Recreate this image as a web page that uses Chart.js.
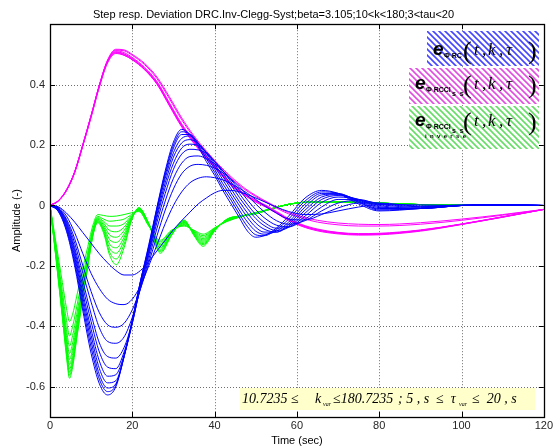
<!DOCTYPE html>
<html><head><meta charset="utf-8">
<script src="https://cdn.jsdelivr.net/npm/chart.js@4.4.1/dist/chart.umd.min.js"></script>
<style>html,body{margin:0;padding:0;background:#fff;}#wrap{width:555px;height:448px;}</style>
</head><body><div id="wrap"><canvas id="c" width="555" height="448"></canvas></div>
<script>
// ---------- axis ticks ----------
const xTicks = [0, 20, 40, 60, 80, 100, 120];
const yTicks = [-0.6, -0.4, -0.2, 0, 0.2, 0.4];

// ---------- blue family (e_ΦRC), 11 values of k ----------
const blueTime = [0,2,4,6,8,10,12,14,16,18,20,22,24,26,28,30,32,34,36,38,40,42,44,46,48,50,52,55,58,62,66,70,75,80,90,100,110,120];
const blue1  = [0,-0.004,-0.025,-0.055,-0.09,-0.125,-0.16,-0.19,-0.215,-0.23,-0.23,-0.215,-0.185,-0.15,-0.115,-0.08,-0.05,-0.022,0.005,0.025,0.042,0.05,0.05,0.045,0.036,0.025,0.013,-0.005,-0.02,-0.03,-0.028,-0.018,-0.005,0.003,0.002,0,0.001,0];
const blue2  = [0,-0.006,-0.035,-0.09,-0.16,-0.225,-0.275,-0.31,-0.325,-0.328,-0.31,-0.265,-0.2,-0.13,-0.06,0,0.045,0.075,0.09,0.095,0.092,0.085,0.072,0.057,0.04,0.02,0,-0.025,-0.045,-0.048,-0.03,-0.008,0.008,0.008,-0.002,0,0.002,0];
const blue3  = [0,-0.008,-0.045,-0.11,-0.2,-0.285,-0.355,-0.395,-0.403,-0.39,-0.345,-0.275,-0.19,-0.1,-0.015,0.055,0.105,0.13,0.136,0.133,0.124,0.108,0.087,0.062,0.033,0.005,-0.02,-0.05,-0.062,-0.05,-0.018,0.008,0.017,0.007,-0.004,0,0.002,0];
const blue4  = [0,-0.009,-0.05,-0.125,-0.225,-0.32,-0.405,-0.45,-0.456,-0.435,-0.37,-0.275,-0.178,-0.075,0.015,0.09,0.14,0.162,0.164,0.155,0.138,0.115,0.085,0.052,0.018,-0.014,-0.04,-0.065,-0.07,-0.045,-0.005,0.02,0.02,0.004,-0.006,0,0.002,0];
const blue5  = [0,-0.01,-0.055,-0.14,-0.25,-0.36,-0.455,-0.5,-0.505,-0.47,-0.385,-0.27,-0.165,-0.055,0.04,0.12,0.17,0.186,0.184,0.172,0.147,0.115,0.078,0.04,0.003,-0.03,-0.055,-0.075,-0.072,-0.035,0.01,0.028,0.02,0,-0.008,0,0.002,0];
const blue6  = [0,-0.011,-0.06,-0.15,-0.27,-0.385,-0.485,-0.535,-0.54,-0.485,-0.39,-0.265,-0.158,-0.04,0.06,0.14,0.19,0.203,0.198,0.177,0.145,0.108,0.068,0.027,-0.01,-0.043,-0.066,-0.083,-0.072,-0.025,0.02,0.033,0.02,-0.004,-0.01,0,0.002,0];
const blue7  = [0,-0.012,-0.065,-0.16,-0.29,-0.41,-0.515,-0.565,-0.56,-0.495,-0.39,-0.26,-0.15,-0.03,0.075,0.16,0.207,0.218,0.205,0.175,0.138,0.097,0.055,0.013,-0.025,-0.058,-0.078,-0.088,-0.068,-0.015,0.028,0.036,0.018,-0.007,-0.01,0,0.002,0];
const blue8  = [0,-0.014,-0.07,-0.17,-0.305,-0.43,-0.54,-0.587,-0.58,-0.5,-0.385,-0.255,-0.145,-0.02,0.09,0.175,0.222,0.23,0.207,0.172,0.13,0.085,0.042,0,-0.04,-0.072,-0.088,-0.088,-0.062,-0.005,0.035,0.038,0.015,-0.01,-0.01,0,0.002,0];
const blue9  = [0,-0.016,-0.075,-0.18,-0.32,-0.45,-0.56,-0.604,-0.59,-0.5,-0.38,-0.25,-0.14,-0.012,0.1,0.19,0.235,0.235,0.205,0.165,0.12,0.072,0.03,-0.015,-0.055,-0.085,-0.095,-0.085,-0.055,0.005,0.04,0.04,0.012,-0.012,-0.01,0,0.002,0];
const blue10 = [0,-0.018,-0.08,-0.19,-0.335,-0.47,-0.575,-0.616,-0.595,-0.5,-0.38,-0.25,-0.135,-0.008,0.108,0.2,0.244,0.236,0.2,0.155,0.11,0.06,0.018,-0.028,-0.07,-0.097,-0.1,-0.08,-0.045,0.015,0.045,0.04,0.01,-0.015,-0.01,0,0.002,0];
const blue11 = [0,-0.02,-0.085,-0.2,-0.35,-0.49,-0.59,-0.627,-0.6,-0.5,-0.38,-0.25,-0.13,-0.005,0.115,0.21,0.252,0.235,0.195,0.145,0.1,0.05,0.005,-0.04,-0.085,-0.105,-0.1,-0.075,-0.035,0.025,0.05,0.04,0.005,-0.018,-0.01,0.002,0.002,0];

// ---------- magenta family (e_ΦRCCI ss) ----------
const magTime = [0,2,4,6,8,10,12,14,16,18,20,23,26,29,32,35,38,41,44,47,50,53,57,61,65,70,75,80,90,100,110,120];
const mag1 = [0,0.015,0.05,0.11,0.2,0.295,0.395,0.475,0.505,0.498,0.483,0.45,0.403,0.333,0.263,0.208,0.158,0.113,0.068,0.038,0.013,-0.007,-0.04,-0.066,-0.082,-0.092,-0.096,-0.095,-0.083,-0.062,-0.038,-0.013];
const mag2 = [0,0.016,0.052,0.112,0.203,0.298,0.398,0.478,0.509,0.502,0.487,0.454,0.407,0.337,0.267,0.211,0.161,0.116,0.071,0.04,0.015,-0.005,-0.038,-0.064,-0.08,-0.09,-0.095,-0.094,-0.083,-0.062,-0.038,-0.013];
const mag3 = [0,0.014,0.049,0.108,0.198,0.292,0.392,0.472,0.503,0.497,0.482,0.449,0.401,0.33,0.26,0.205,0.155,0.11,0.066,0.036,0.011,-0.009,-0.042,-0.068,-0.084,-0.094,-0.098,-0.097,-0.085,-0.063,-0.039,-0.013];
const mag4 = [0,0.015,0.051,0.111,0.201,0.297,0.397,0.478,0.512,0.506,0.49,0.457,0.41,0.34,0.27,0.214,0.163,0.118,0.073,0.042,0.017,-0.003,-0.036,-0.062,-0.078,-0.089,-0.093,-0.092,-0.081,-0.061,-0.037,-0.013];
const mag5 = [0,0.015,0.05,0.11,0.2,0.296,0.396,0.477,0.507,0.5,0.485,0.452,0.405,0.335,0.265,0.21,0.16,0.114,0.07,0.039,0.014,-0.006,-0.039,-0.065,-0.081,-0.091,-0.095,-0.094,-0.082,-0.062,-0.038,-0.013];
const mag6 = [0,0.015,0.051,0.112,0.203,0.299,0.4,0.482,0.517,0.515,0.5,0.47,0.425,0.36,0.29,0.23,0.18,0.135,0.095,0.06,0.033,0.01,-0.018,-0.036,-0.049,-0.058,-0.062,-0.063,-0.057,-0.045,-0.03,-0.013];
const mag7 = [0,0.015,0.05,0.111,0.201,0.297,0.398,0.48,0.514,0.512,0.497,0.466,0.42,0.354,0.284,0.225,0.175,0.13,0.09,0.056,0.03,0.007,-0.022,-0.041,-0.055,-0.064,-0.068,-0.068,-0.062,-0.049,-0.032,-0.013];

// ---------- green family (e_ΦRCCI ss inverse) ----------
const greenTime = [0,1,2,3,4,4.75,5.5,6.5,7.6,9.2,10.5,11.6,13,14.5,16.1,18,19.8,21.6,24,26.8,29.5,32.6,35,37.2,40,43,46,50,54,58,64,72,80,90,100,110,120];
const green1  = [0,-0.085,-0.17,-0.255,-0.34,-0.384,-0.36,-0.3,-0.23,-0.135,-0.062,-0.03,-0.033,-0.036,-0.035,-0.03,-0.024,-0.02,-0.068,-0.115,-0.082,-0.068,-0.082,-0.095,-0.074,-0.053,-0.039,-0.023,-0.01,0.004,0.012,0.012,0.008,0.003,0.001,0,0];
const green2  = [0,-0.094,-0.188,-0.285,-0.38,-0.432,-0.4,-0.335,-0.258,-0.155,-0.073,-0.036,-0.045,-0.052,-0.05,-0.045,-0.03,-0.018,-0.067,-0.12,-0.084,-0.065,-0.084,-0.1,-0.075,-0.052,-0.038,-0.024,-0.01,0.004,0.012,0.012,0.008,0.003,0.001,0,0];
const green3  = [0,-0.1,-0.2,-0.305,-0.41,-0.465,-0.43,-0.36,-0.275,-0.165,-0.078,-0.04,-0.052,-0.068,-0.068,-0.06,-0.034,-0.016,-0.065,-0.125,-0.086,-0.063,-0.086,-0.105,-0.076,-0.051,-0.038,-0.024,-0.01,0.004,0.012,0.012,0.008,0.003,0.001,0,0];
const green4  = [0,-0.104,-0.21,-0.32,-0.43,-0.49,-0.455,-0.38,-0.29,-0.172,-0.082,-0.043,-0.058,-0.083,-0.087,-0.072,-0.037,-0.015,-0.064,-0.13,-0.088,-0.06,-0.088,-0.11,-0.077,-0.05,-0.037,-0.025,-0.01,0.004,0.012,0.012,0.008,0.003,0.001,0,0];
const green5  = [0,-0.107,-0.218,-0.33,-0.445,-0.51,-0.475,-0.395,-0.3,-0.18,-0.085,-0.045,-0.064,-0.098,-0.105,-0.083,-0.039,-0.013,-0.062,-0.135,-0.09,-0.058,-0.09,-0.114,-0.078,-0.049,-0.037,-0.025,-0.01,0.004,0.012,0.012,0.008,0.003,0.001,0,0];
const green6  = [0,-0.11,-0.225,-0.34,-0.46,-0.527,-0.49,-0.405,-0.31,-0.185,-0.088,-0.048,-0.07,-0.113,-0.122,-0.094,-0.041,-0.012,-0.062,-0.14,-0.092,-0.056,-0.092,-0.118,-0.079,-0.048,-0.036,-0.026,-0.01,0.004,0.012,0.012,0.008,0.003,0.001,0,0];
const green7  = [0,-0.112,-0.23,-0.35,-0.47,-0.541,-0.505,-0.415,-0.32,-0.19,-0.09,-0.05,-0.075,-0.128,-0.14,-0.105,-0.043,-0.011,-0.06,-0.145,-0.094,-0.054,-0.094,-0.122,-0.08,-0.047,-0.036,-0.026,-0.01,0.004,0.012,0.012,0.008,0.003,0.001,0,0];
const green8  = [0,-0.115,-0.235,-0.36,-0.48,-0.552,-0.515,-0.425,-0.33,-0.195,-0.092,-0.053,-0.08,-0.142,-0.158,-0.116,-0.045,-0.01,-0.06,-0.149,-0.096,-0.052,-0.096,-0.126,-0.082,-0.046,-0.035,-0.027,-0.01,0.004,0.012,0.012,0.008,0.003,0.001,0,0];
const green9  = [0,-0.118,-0.24,-0.365,-0.49,-0.562,-0.525,-0.435,-0.335,-0.198,-0.094,-0.055,-0.085,-0.155,-0.177,-0.128,-0.048,-0.008,-0.06,-0.153,-0.098,-0.05,-0.098,-0.13,-0.083,-0.045,-0.035,-0.027,-0.01,0.004,0.012,0.012,0.008,0.003,0.001,0,0];
const green10 = [0,-0.12,-0.245,-0.37,-0.5,-0.572,-0.535,-0.44,-0.34,-0.2,-0.095,-0.057,-0.09,-0.165,-0.196,-0.14,-0.05,-0.007,-0.06,-0.158,-0.1,-0.048,-0.1,-0.135,-0.085,-0.045,-0.035,-0.028,-0.01,0.004,0.012,0.012,0.008,0.003,0.001,0,0];

// ---------- texts ----------
const titleText = 'Step resp. Deviation DRC.Inv-Clegg-Syst;beta=3.105;10<k<180;3<tau<20';
const xTitle = 'Time (sec)';
const yTitle = 'Amplitude (-)';

// ---------- build datasets ----------
const blueSet = [blue1,blue2,blue3,blue4,blue5,blue6,blue7,blue8,blue9,blue10,blue11];
const magSet = [mag1,mag2,mag3,mag4,mag5,mag6,mag7];
const greenSet = [green1,green2,green3,green4,green5,green6,green7,green8,green9,green10];
function mk(time, vals, color, label){
  return {label, data: time.map((t,i)=>({x:t,y:vals[i]})), borderColor:color, borderWidth:1,
    pointRadius:0, fill:false, cubicInterpolationMode:'monotone'};
}
const datasets = [];
blueSet.forEach((v,i)=>datasets.push(mk(blueTime, v, '#0000ff', 'blue'+(i+1))));
magSet.forEach((v,i)=>datasets.push(mk(magTime, v, '#ff00ff', 'mag'+(i+1))));
greenSet.forEach((v,i)=>datasets.push(mk(greenTime, v, '#00ff00', 'green'+(i+1))));

function hatch(ctx, color){
  const c = document.createElement('canvas'); c.width = 6; c.height = 6;
  const g = c.getContext('2d');
  g.fillStyle = '#fff'; g.fillRect(0,0,6,6);
  g.strokeStyle = color; g.lineWidth = 1.6;
  g.beginPath();
  g.moveTo(-1,-1); g.lineTo(7,7);
  g.moveTo(-4,2); g.lineTo(4,10);
  g.moveTo(2,-4); g.lineTo(10,4);
  g.stroke();
  return ctx.createPattern(c,'repeat');
}

function legendEntry(ctx, ex, base, sub1, sub2, sub3){
  ctx.fillStyle = '#000';
  ctx.textBaseline = 'alphabetic';
  ctx.textAlign = 'left';
  ctx.font = "bold italic 19px 'Liberation Sans'";
  ctx.fillText('e', ex, base);
  ctx.font = "bold 7px 'Liberation Sans'";
  ctx.fillText(sub1, ex + 11, base + 3);
  if (sub2) { ctx.fillText(sub2, 452, base + 7); }
  if (sub3) { ctx.font = "bold 6px 'Liberation Sans'"; ctx.fillText(sub3, ex + 10, base + 12); }
  ctx.font = "26px 'Liberation Serif'";
  ctx.fillText('(', 463, base + 4);
  ctx.fillText(')', 528, base + 4);
  ctx.font = "italic 17px 'Liberation Serif'";
  ctx.fillText('t', 474, base);
  ctx.fillText(',', 482, base);
  ctx.fillText('k', 488, base);
  ctx.fillText(',', 499, base);
  ctx.fillText('\u03C4', 506, base);
}

const gridPlugin = {
  id: 'gridPlugin',
  beforeDatasetsDraw(chart){
    const {ctx, chartArea:a, scales:{x, y}} = chart;
    ctx.save();
    ctx.strokeStyle = '#6e6e6e'; ctx.lineWidth = 1;
    ctx.setLineDash([1, 2]);
    ctx.beginPath();
    xTicks.forEach(v=>{
      const px = Math.round(x.getPixelForValue(v)) + 0.5;
      if (px > a.left + 1 && px < a.right - 1) { ctx.moveTo(px, a.top); ctx.lineTo(px, a.bottom); }
    });
    yTicks.forEach(v=>{
      const py = Math.round(y.getPixelForValue(v)) + 0.5;
      ctx.moveTo(a.left, py); ctx.lineTo(a.right, py);
    });
    ctx.stroke();
    ctx.restore();
  }
};

const overlay = {
  id: 'overlay',
  afterDraw(chart){
    const {ctx, chartArea:a, scales:{x, y}} = chart;
    ctx.save();
    ctx.strokeStyle = '#000'; ctx.lineWidth = 1;
    ctx.beginPath();
    xTicks.forEach(v=>{
      const px = Math.round(x.getPixelForValue(v)) + 0.5;
      ctx.moveTo(px, a.bottom); ctx.lineTo(px, a.bottom - 5);
      ctx.moveTo(px, a.top); ctx.lineTo(px, a.top + 5);
    });
    yTicks.forEach(v=>{
      const py = Math.round(y.getPixelForValue(v)) + 0.5;
      ctx.moveTo(a.left, py); ctx.lineTo(a.left + 5, py);
      ctx.moveTo(a.right, py); ctx.lineTo(a.right - 5, py);
    });
    ctx.stroke();
    ctx.lineWidth = 1.3;
    ctx.strokeRect(Math.round(a.left)+0.5, Math.round(a.top)+0.5, Math.round(a.right-a.left), Math.round(a.bottom-a.top));

    // legend boxes
    ctx.fillStyle = hatch(ctx, '#4646ff'); ctx.fillRect(427, 31, 112, 35);
    ctx.fillStyle = hatch(ctx, '#e04ee0'); ctx.fillRect(409, 68, 130, 36);
    ctx.fillStyle = hatch(ctx, '#66dd66'); ctx.fillRect(409, 106, 130, 43);
    legendEntry(ctx, 433, 55, '\u03A6 RC', null, null);
    legendEntry(ctx, 415, 89, '\u03A6 RCCI', 's  s', null);
    legendEntry(ctx, 415, 126, '\u03A6 RCCI', 's  s', 'i  n  v  e  r  s  e');

    // parameter annotation
    ctx.fillStyle = '#ffffcc';
    ctx.fillRect(240, 388, 295, 22);
    ctx.fillStyle = '#000';
    const fb = "italic 14px 'Liberation Serif'";
    const fs = "italic 6px 'Liberation Serif'";
    const base = 403;
    ctx.font = fb; ctx.fillText('10.7235 \u2264', 242, base);
    ctx.fillText('k', 315, base);
    ctx.font = fs; ctx.fillText('var', 323, base + 3);
    ctx.font = fb; ctx.fillText('\u2264180.7235', 333, base);
    ctx.fillText('; 5 , s  \u2264  \u03C4', 398, base);
    ctx.font = fs; ctx.fillText('var', 459, base + 3);
    ctx.font = fb; ctx.fillText('\u2264  20 , s', 472, base);
    ctx.restore();
  }
};

new Chart(document.getElementById('c'), {
  type: 'line',
  data: { datasets },
  options: {
    responsive: false,
    animation: false,
    events: [],
    layout: { padding: { left: 0, right: 8, top: 0, bottom: 0 } },
    plugins: {
      legend: { display: false },
      tooltip: { enabled: false },
      title: { display: true, text: titleText, color: '#000',
        font: { family: "'Liberation Sans'", size: 11, weight: 'normal' },
        padding: { top: 8, bottom: 3 } }
    },
    scales: {
      x: {
        type: 'linear', min: 0, max: 120,
        afterBuildTicks: s => { s.ticks = xTicks.map(v=>({value:v})); },
        afterFit: s => { s.height = 31; },
        ticks: { color: '#262626', font: { family: "'Liberation Sans'", size: 11 }, padding: 2, maxRotation: 0, autoSkip: false },
        grid: { display: false, drawTicks: false },
        border: { display: false },
        title: { display: true, text: xTitle, color: '#000', font: { family: "'Liberation Sans'", size: 11 }, padding: { top: 0, bottom: 0 } }
      },
      y: {
        type: 'linear', min: -0.7, max: 0.6,
        afterBuildTicks: s => { s.ticks = yTicks.map(v=>({value:v})); },
        afterFit: s => { s.width = 50; },
        ticks: { color: '#262626', font: { family: "'Liberation Sans'", size: 11 }, padding: 5, autoSkip: false,
          callback: v => (Math.abs(v) < 1e-9 ? '0' : String(Math.round(v*10)/10)) },
        grid: { display: false, drawTicks: false },
        border: { display: false },
        title: { display: true, text: yTitle, color: '#000', font: { family: "'Liberation Sans'", size: 11 }, padding: { top: 10, bottom: 0 } }
      }
    }
  },
  plugins: [gridPlugin, overlay]
});
</script>
</body></html>
